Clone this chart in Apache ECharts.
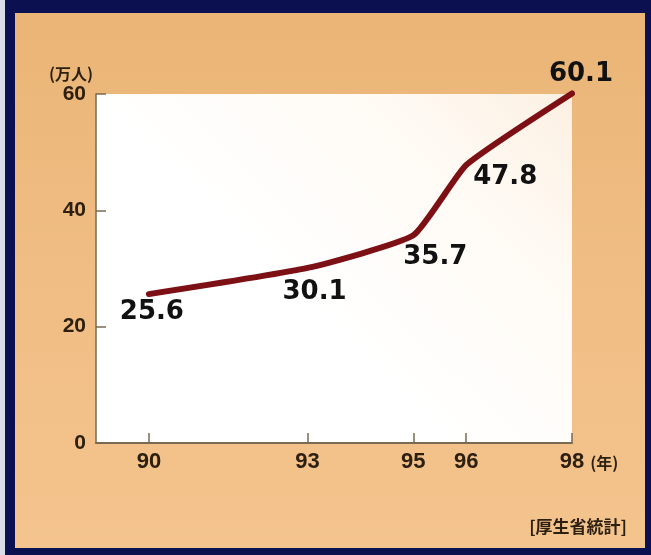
<!DOCTYPE html>
<html>
<head>
<meta charset="utf-8">
<script src="https://cdn.jsdelivr.net/npm/echarts@6/dist/echarts.min.js"></script>
<style>
html,body{margin:0;padding:0;background:#0b1150;}
#chart{width:651px;height:555px;}
</style>
</head>
<body>
<div id="chart"></div>
<script>
// ---- data ----
const years = [90, 93, 95, 96, 98];
const values = [25.6, 30.1, 35.7, 47.8, 60.1];
const xTickLabels = [90, 93, 95, 96, 98];
const yTickLabels = [0, 20, 40, 60];
const yUnit = '(万人)';
const xUnit = '(年)';
const source = '[厚生省統計]';

// ---- styling (label offsets per point) ----
const labelOffsets = [[3, 18], [7, 24], [22, 22], [39, 12], [9, -19]];

const chart = echarts.init(document.getElementById('chart'), null, {renderer: 'canvas'});

const axisColor = '#7a6a52';
const textColor = '#2e2010';

const option = {
  backgroundColor: '#0b1150',
  animation: false,
  graphic: [
    {type: 'rect', z: -100, shape: {x: 0, y: 0, width: 5, height: 555}, style: {fill: '#d9dde8'}},
    {type: 'rect', z: -100, shape: {x: 15, y: 13, width: 630, height: 535},
      style: {fill: new echarts.graphic.LinearGradient(0, 0, 0, 1, [
        {offset: 0, color: '#eab576'},
        {offset: 0.5, color: '#f0bd84'},
        {offset: 1, color: '#f4c48e'}
      ])}}
  ],
  title: {
    text: source,
    right: 19,
    top: 513,
    textStyle: {fontFamily: 'Noto Sans CJK JP', fontSize: 17, fontWeight: 'bold', color: textColor}
  },
  grid: {
    left: 96, right: 79, top: 94, bottom: 112,
    show: true, borderWidth: 0,
    backgroundColor: new echarts.graphic.LinearGradient(1, 0, 0.5, 0.7, [
      {offset: 0, color: '#fcf0e2'},
      {offset: 0.4, color: '#fffaf4'},
      {offset: 1, color: '#ffffff'}
    ])
  },
  xAxis: {
    type: 'value',
    min: 89, max: 98, interval: 1,
    splitLine: {show: false},
    axisLine: {show: true, lineStyle: {color: axisColor, width: 2}},
    axisTick: {show: true, inside: true, length: 10, customValues: xTickLabels, lineStyle: {color: axisColor, width: 1.5}},
    axisLabel: {
      customValues: xTickLabels,
      margin: 8,
      fontFamily: 'Liberation Sans', fontWeight: 'bold', fontSize: 22, color: textColor
    },
    name: xUnit,
    nameLocation: 'end',
    nameGap: 9,
    nameTextStyle: {fontFamily: 'Noto Sans CJK JP', fontWeight: 'bold', fontSize: 16, color: textColor, verticalAlign: 'top', padding: [12, 0, 0, 0]}
  },
  yAxis: {
    type: 'value',
    min: 0, max: 60, interval: 20,
    splitLine: {show: false},
    axisLine: {show: true, lineStyle: {color: axisColor, width: 1.5}},
    axisTick: {show: true, inside: true, length: 10, lineStyle: {color: axisColor, width: 1.5}},
    axisLabel: {
      customValues: yTickLabels,
      margin: 10,
      fontFamily: 'Liberation Sans', fontWeight: 'bold', fontSize: 21, color: textColor
    },
    name: yUnit,
    nameLocation: 'end',
    nameGap: 12,
    nameTextStyle: {fontFamily: 'Noto Sans CJK JP', fontWeight: 'bold', fontSize: 16, color: textColor, align: 'right', padding: [0, 3, 0, 0]}
  },
  series: [{
    type: 'line',
    data: years.map((y, i) => [y, values[i]]),
    symbol: 'circle',
    symbolSize: 2,
    showSymbol: true,
    clip: false,
    itemStyle: {color: '#7d1014'},
    smooth: 0.15,
    lineStyle: {color: '#7d1014', width: 6, cap: 'round', join: 'round'},
    label: {
      show: true,
      position: 'inside',
      formatter: p => p.value[1].toFixed(1),
      fontFamily: 'DejaVu Sans', fontWeight: 'bold', fontSize: 26, color: '#111111'
    },
    labelLayout: p => ({dx: labelOffsets[p.dataIndex][0], dy: labelOffsets[p.dataIndex][1], hideOverlap: false}),
    z: 5
  }]
};

chart.setOption(option);
</script>
</body>
</html>
